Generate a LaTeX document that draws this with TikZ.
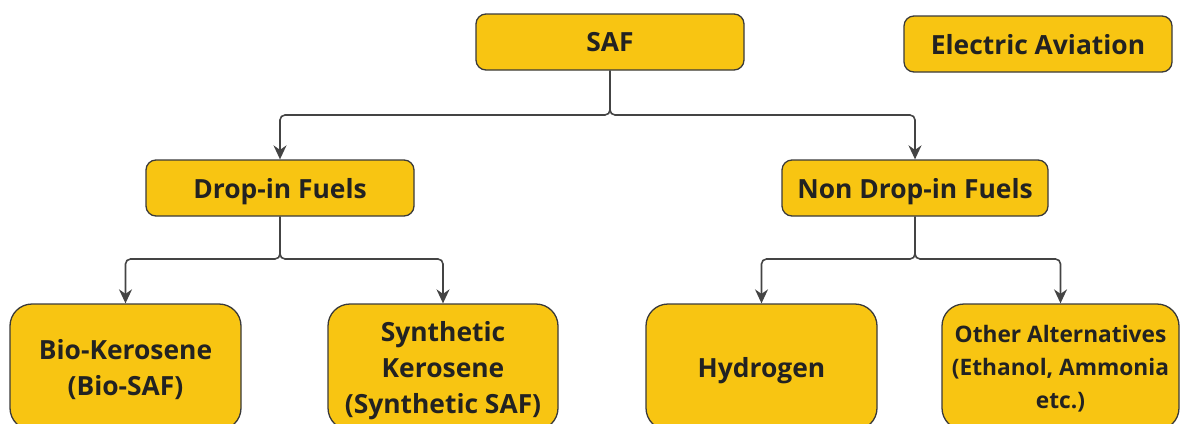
\documentclass[tikz,border=0pt]{standalone}
\usepackage{fontspec}
\setmainfont{Open Sans}
\usetikzlibrary{arrows.meta}
\definecolor{boxfill}{HTML}{F8C512}
\definecolor{boxline}{HTML}{3A3A3A}
\definecolor{conline}{HTML}{444444}
\definecolor{txt}{HTML}{222222}
\begin{document}
\begin{tikzpicture}[x=1pt,y=-1pt,
  box/.style={draw=boxline, line width=1.3pt, fill=boxfill, rounded corners=10pt,
    text=txt, font=\fontsize{26.4}{36}\selectfont\bfseries, align=center, inner sep=0pt, text depth=0pt},
  bigbox/.style={box, rounded corners=22pt, minimum width=231pt, minimum height=126pt},
  topbox/.style={box, minimum height=56pt},
  conn/.style={draw=conline, line width=1.6pt, rounded corners=5pt, -{Stealth[length=14pt,width=13pt]}}
]
\useasboundingbox (0,0) rectangle (1180,423);
\clip (0,0) rectangle (1180,423);
\node[topbox, minimum width=268pt] (saf) at (610,42) {SAF};
\node[topbox, minimum width=268pt] (elec) at (1038,44) {Electric Aviation};
\node[topbox, minimum width=268pt] (drop) at (280,188) {Drop-in Fuels};
\node[topbox, minimum width=266pt] (nondrop) at (915,188) {Non Drop-in Fuels};
\node[bigbox] (bio) at (125.5,367) {Bio-Kerosene\\(Bio-SAF)};
\node[bigbox, minimum width=230pt] (syn) at (443,367) {Synthetic\\Kerosene\\(Synthetic SAF)};
\node[bigbox] (hyd) at (761.5,367) {Hydrogen};
\node[bigbox, minimum width=237pt, font=\fontsize{22.7}{33}\selectfont\bfseries] (oth) at (1060.5,367) {Other Alternatives\\(Ethanol, Ammonia\\etc.)};
\coordinate (j1) at (610,115);
\coordinate (j2) at (280,259);
\coordinate (j3) at (915,259);
\draw[conn] (saf.south) -- (j1) -| (drop.north);
\draw[conn] (saf.south) -- (j1) -| (nondrop.north);
\draw[conn] (drop.south) -- (j2) -| (bio.north);
\draw[conn] (drop.south) -- (j2) -| (syn.north);
\draw[conn] (nondrop.south) -- (j3) -| (hyd.north);
\draw[conn] (nondrop.south) -- (j3) -| (oth.north);
\end{tikzpicture}
\end{document}
